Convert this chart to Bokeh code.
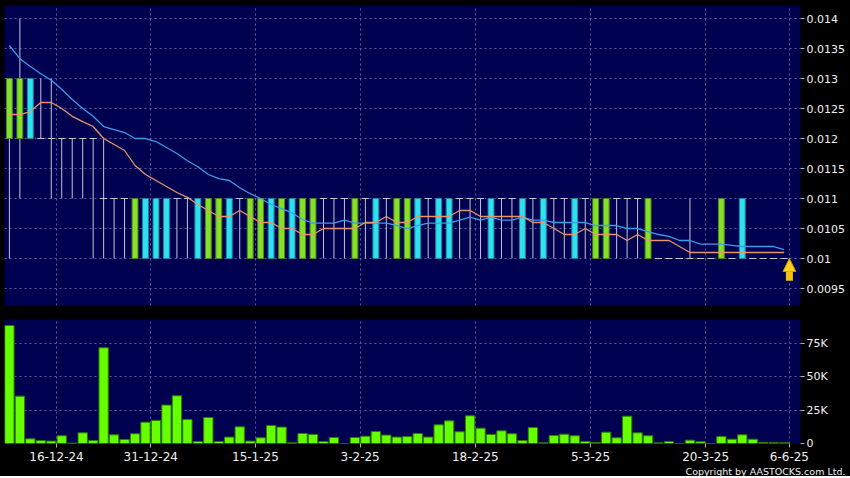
from bokeh.plotting import figure
from bokeh.layouts import column
from bokeh.models import (Range1d, FixedTicker, CustomJSTickFormatter, Arrow,
                          NormalHead, ColumnDataSource)
from bokeh.embed import file_html
from bokeh.resources import INLINE

# ---------------- data ----------------
opens = [0.012, 0.012, 0.013, 0.012, 0.012, 0.012, 0.012, 0.012, 0.012, 0.011,
         0.011, 0.011, 0.010, 0.011, 0.011, 0.011, 0.011, 0.011, 0.011, 0.010,
         0.010, 0.011, 0.011, 0.010, 0.010, 0.011, 0.010, 0.011, 0.010, 0.010,
         0.011, 0.011, 0.011, 0.010, 0.011, 0.011, 0.011, 0.010, 0.010, 0.011,
         0.011, 0.011, 0.011, 0.011, 0.011, 0.011, 0.011, 0.011, 0.011, 0.011,
         0.011, 0.011, 0.011, 0.011, 0.011, 0.011, 0.010, 0.010, 0.011, 0.011,
         0.011, 0.010, 0.010, 0.010, 0.010, 0.010, 0.010, 0.010, 0.010, 0.010,
         0.011, 0.010, 0.010, 0.010, 0.010]
highs = [0.013, 0.014, 0.013, 0.013, 0.013, 0.012, 0.012, 0.012, 0.012, 0.012,
         0.011, 0.011, 0.011, 0.011, 0.011, 0.011, 0.011, 0.011, 0.011, 0.011,
         0.011, 0.011, 0.011, 0.011, 0.011, 0.011, 0.011, 0.011, 0.011, 0.011,
         0.011, 0.011, 0.011, 0.011, 0.011, 0.011, 0.011, 0.011, 0.011, 0.011,
         0.011, 0.011, 0.011, 0.011, 0.011, 0.011, 0.011, 0.011, 0.011, 0.011,
         0.011, 0.011, 0.011, 0.011, 0.011, 0.011, 0.011, 0.011, 0.011, 0.011,
         0.011, 0.011, 0.010, 0.010, 0.010, 0.011, 0.010, 0.010, 0.011, 0.010,
         0.011, 0.010, 0.010, 0.010, 0.010]
lows = [0.010, 0.011, 0.012, 0.012, 0.011, 0.011, 0.011, 0.011, 0.010, 0.010,
        0.010, 0.010, 0.010, 0.010, 0.010, 0.010, 0.010, 0.010, 0.010, 0.010,
        0.010, 0.010, 0.010, 0.010, 0.010, 0.010, 0.010, 0.010, 0.010, 0.010,
        0.010, 0.010, 0.010, 0.010, 0.010, 0.010, 0.010, 0.010, 0.010, 0.010,
        0.010, 0.010, 0.010, 0.010, 0.010, 0.010, 0.010, 0.010, 0.010, 0.010,
        0.010, 0.010, 0.010, 0.010, 0.010, 0.010, 0.010, 0.010, 0.010, 0.010,
        0.010, 0.010, 0.010, 0.010, 0.010, 0.010, 0.010, 0.010, 0.010, 0.010,
        0.010, 0.010, 0.010, 0.010, 0.010]
closes = [0.013, 0.013, 0.012, 0.012, 0.012, 0.012, 0.012, 0.012, 0.012, 0.011,
          0.011, 0.011, 0.011, 0.010, 0.010, 0.010, 0.011, 0.011, 0.010, 0.011,
          0.011, 0.010, 0.011, 0.011, 0.011, 0.010, 0.011, 0.010, 0.011, 0.011,
          0.011, 0.011, 0.011, 0.011, 0.011, 0.010, 0.011, 0.011, 0.011, 0.010,
          0.011, 0.010, 0.010, 0.011, 0.011, 0.011, 0.010, 0.011, 0.011, 0.010,
          0.011, 0.010, 0.011, 0.011, 0.010, 0.011, 0.011, 0.011, 0.011, 0.011,
          0.011, 0.011, 0.010, 0.010, 0.010, 0.010, 0.010, 0.010, 0.011, 0.010,
          0.010, 0.010, 0.010, 0.010, 0.010]
volumes = [88500, 35500, 3500, 2200, 1800, 5800, 300, 8000, 2200, 71800,
           6500, 3000, 7300, 16000, 17300, 28800, 35800, 18000, 1500, 19500,
           1500, 4800, 12500, 1800, 4300, 13500, 12300, 500, 7500, 6800,
           1500, 4500, 0, 4500, 5500, 9000, 6300, 4800, 5200, 7500,
           4800, 14000, 17000, 8800, 20800, 11500, 6800, 9500, 7300, 2200,
           12000, 500, 6000, 7000, 5800, 1500, 800, 8500, 4300, 20500,
           8000, 5800, 500, 1500, 0, 2500, 1300, 0, 5200, 3200,
           6500, 3200, 800, 800, 500]
ma_short = [0.0124, 0.0124, 0.01245, 0.0126, 0.0126, 0.0125, 0.01237, 0.01228, 0.0122, 0.0120,
            0.0119, 0.0118, 0.01155, 0.0114, 0.0113, 0.0112, 0.0111, 0.01102, 0.0109, 0.0108,
            0.0107, 0.0107, 0.0108, 0.0107, 0.0106, 0.0106, 0.0105, 0.0105, 0.0104, 0.0104,
            0.0105, 0.0105, 0.0105, 0.0105, 0.0106, 0.0106, 0.0107, 0.0106, 0.0106, 0.0107,
            0.0107, 0.0107, 0.0107, 0.0108, 0.0108, 0.0107, 0.0107, 0.0107, 0.0107, 0.0107,
            0.0106, 0.0106, 0.0105, 0.0104, 0.0104, 0.0105, 0.0104, 0.0104, 0.0104, 0.0103,
            0.0104, 0.0103, 0.0103, 0.0103, 0.0102, 0.0101, 0.0101, 0.0101, 0.0101, 0.0101,
            0.0101, 0.0101, 0.0101, 0.0101, 0.0101]
ma_long = [0.01355, 0.01333, 0.0132, 0.01308, 0.01297, 0.01282, 0.01265, 0.0125, 0.01237, 0.0122,
           0.01215, 0.0121, 0.0120, 0.0120, 0.01195, 0.01185, 0.01175, 0.01163, 0.01153, 0.0114,
           0.01133, 0.0113, 0.01118, 0.01108, 0.0110, 0.0109, 0.01083, 0.01076, 0.01065, 0.01059,
           0.01059, 0.01059, 0.01064, 0.01059, 0.01059, 0.01059, 0.01059, 0.01055, 0.0105, 0.01055,
           0.01059, 0.01059, 0.01059, 0.01064, 0.01069, 0.01064, 0.01069, 0.01064, 0.01064, 0.01069,
           0.01064, 0.01064, 0.0106, 0.0106, 0.0106, 0.0106, 0.01055, 0.01055, 0.01055, 0.0105,
           0.0105, 0.01045, 0.0104, 0.01037, 0.0103, 0.0103, 0.01024, 0.01024, 0.01024, 0.01022,
           0.0102, 0.0102, 0.0102, 0.0102, 0.01015]

date_tick_index = [4, 13, 23, 33, 44, 55, 66, 74]
date_tick_labels = ["16-12-24", "31-12-24", "15-1-25", "3-2-25", "18-2-25",
                    "5-3-25", "20-3-25", "6-6-25"]
price_ticks = [0.0095, 0.01, 0.0105, 0.011, 0.0115, 0.012, 0.0125, 0.013, 0.0135, 0.014]
volume_ticks = [0, 25000, 50000, 75000]

# ---------------- styling ----------------
NAVY = "#000050"
GRID = "#5c5c98"
WICK = "#c4c4d4"
UP = "#86e02a"
UP_LINE = "#4c8c18"
DOWN = "#2ee0f0"
DOWN_LINE = "#1a8a9a"
FONT = "DejaVu Sans"

n = len(closes)
idx = list(range(n))
grid_pos = [i + 0.5 for i in date_tick_index]
xr = Range1d(-0.468, 75.56)

FW = 796


def style(p):
    p.background_fill_color = NAVY
    p.border_fill_color = "black"
    p.outline_line_color = None
    p.min_border_left = 4
    p.min_border_right = 50
    p.xgrid.ticker = FixedTicker(ticks=grid_pos)
    for g in (p.xgrid, p.ygrid):
        g.grid_line_color = GRID
        g.grid_line_dash = "2 3"
        g.grid_line_width = 1
    ax = p.yaxis[0]
    ax.axis_line_color = None
    ax.major_tick_line_color = "#b0b0b0"
    ax.major_tick_out = 4
    ax.major_tick_in = 0
    ax.minor_tick_line_color = None
    ax.major_label_text_color = "#f0f0f0"
    ax.major_label_text_font = FONT
    ax.major_label_text_font_size = "11px"
    ax.major_label_standoff = 2


# ---------------- price panel ----------------
p = figure(frame_width=FW, frame_height=300, x_range=xr,
           y_range=Range1d(0.0092167, 0.0142167), y_axis_location="right",
           output_backend="svg", toolbar_location=None)
style(p)
p.min_border_top = 5
p.min_border_bottom = 14
p.xaxis.visible = False
p.yaxis.ticker = FixedTicker(ticks=price_ticks)
p.yaxis.formatter = CustomJSTickFormatter(
    code="return tick.toFixed(4).replace(/0+$/, '');")
p.ygrid.ticker = FixedTicker(ticks=price_ticks)

# wicks
wick_src = ColumnDataSource(dict(
    x=[i for i in idx if highs[i] != lows[i]],
    lo=[lows[i] for i in idx if highs[i] != lows[i]],
    hi=[highs[i] for i in idx if highs[i] != lows[i]]))
p.segment(x0="x", y0="lo", x1="x", y1="hi", source=wick_src,
          line_color=WICK, line_width=1)

# doji dashes
doji = [i for i in idx if opens[i] == closes[i]]
p.scatter([i for i in doji], [opens[i] for i in doji], marker="dash",
          size=7, line_color=WICK, line_width=1)

# bodies
up = [i for i in idx if closes[i] > opens[i]]
dn = [i for i in idx if closes[i] < opens[i]]
p.vbar(x=up, top=[closes[i] for i in up], bottom=[opens[i] for i in up],
       width=0.56, fill_color=UP, line_color=UP_LINE, line_width=1)
p.vbar(x=dn, top=[opens[i] for i in dn], bottom=[closes[i] for i in dn],
       width=0.56, fill_color=DOWN, line_color=DOWN_LINE, line_width=1)

# moving averages
p.line(idx, ma_long, line_color="#3d9cec", line_width=1.3)
p.line(idx, ma_short, line_color="#e8946c", line_width=1.3)

# last price arrow
last_x = idx[-1] + 0.5
p.add_layout(Arrow(end=NormalHead(size=13, fill_color="#ffd21a",
                                  line_color="#c89000", line_width=1),
                   x_start=last_x, y_start=closes[-1] - 0.00037,
                   x_end=last_x, y_end=closes[-1],
                   line_color="#f5c010", line_width=7))

# ---------------- volume panel ----------------
v = figure(frame_width=FW, frame_height=124, x_range=xr,
           y_range=Range1d(0, 93000), y_axis_location="right",
           output_backend="svg", toolbar_location=None)
style(v)
v.min_border_top = 0
v.min_border_bottom = 0
v.yaxis.ticker = FixedTicker(ticks=volume_ticks)
v.yaxis.formatter = CustomJSTickFormatter(
    code="return tick == 0 ? '0' : (tick / 1000) + 'K';")
v.ygrid.ticker = FixedTicker(ticks=volume_ticks)
v.vbar(x=idx, top=volumes, width=0.89, fill_color="#66ff00",
       line_color="#2e7a00", line_width=1)

xa = v.xaxis[0]
xa.ticker = FixedTicker(ticks=grid_pos)
xa.major_label_overrides = {g: lab for g, lab in zip(grid_pos, date_tick_labels)}
xa.axis_line_color = None
xa.major_tick_line_color = "#b0b0b0"
xa.major_tick_out = 4
xa.major_tick_in = 0
xa.minor_tick_line_color = None
xa.major_label_text_color = "#f0f0f0"
xa.major_label_text_font = FONT
xa.major_label_text_font_size = "12px"
xa.major_label_standoff = 4

v.title.text = "Copyright by AASTOCKS.com Ltd."
v.title_location = "below"
v.title.align = "right"
v.title.text_color = "#f0f0f0"
v.title.text_font = FONT
v.title.text_font_style = "normal"
v.title.text_font_size = "9.5px"
v.title.standoff = 0
v.title.offset = -45

layout = column(p, v, spacing=0, background="black")

open("out.html", "w").write(file_html(layout, INLINE))
